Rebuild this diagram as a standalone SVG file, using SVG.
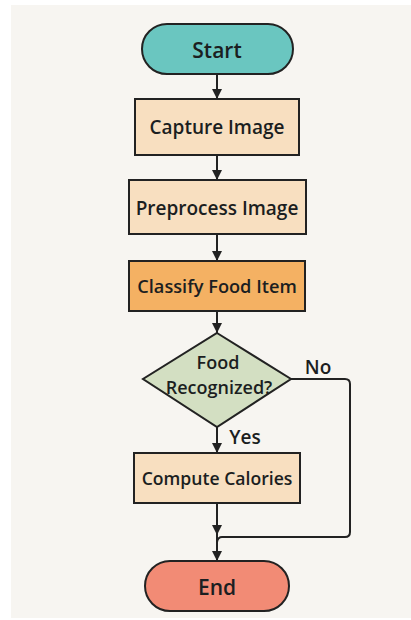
<svg xmlns="http://www.w3.org/2000/svg" width="411" height="620" viewBox="0 0 411 620">
<style>
text{font-family:"Open Sans","Liberation Sans",sans-serif;font-weight:600;fill:#1b1e21;text-anchor:middle;dominant-baseline:central}
.lbl{font-size:19px}
.sm{font-size:18px}
.big{font-size:21px}
.sh{stroke:#222;stroke-width:2}
.ln{fill:none;stroke:#222;stroke-width:2}
</style>
<defs>
<marker id="a" viewBox="0 0 10 10" refX="10" refY="5" markerWidth="10" markerHeight="10" orient="auto" markerUnits="userSpaceOnUse">
<path d="M0,0 L10,5 L0,10 z" fill="#222"/>
</marker>
</defs>
<rect x="0" y="0" width="411" height="620" fill="#ffffff"/>
<rect x="11" y="5" width="400" height="613" fill="#f7f5f1"/>
<g id="connectors">
<line class="ln" x1="217" y1="74" x2="217" y2="99" marker-end="url(#a)"/>
<line class="ln" x1="217" y1="155" x2="217" y2="180" marker-end="url(#a)"/>
<line class="ln" x1="217" y1="234" x2="217" y2="261" marker-end="url(#a)"/>
<line class="ln" x1="217" y1="311" x2="217" y2="333" marker-end="url(#a)"/>
<line class="ln" x1="217" y1="427" x2="217" y2="453" marker-end="url(#a)"/>
<line class="ln" x1="217" y1="503" x2="217" y2="535" marker-end="url(#a)"/>
<line class="ln" x1="217" y1="535" x2="217" y2="561" marker-end="url(#a)"/>
<path class="ln" d="M291,379 H345 Q350,379 350,384 V532 Q350,537 345,537 H222 Q218,537 217,542"/>
<text class="lbl" x="318" y="367">No</text>
<text class="lbl" x="245" y="437">Yes</text>
</g>
<g id="start">
<rect class="sh" x="142" y="24" width="151" height="50" rx="25" fill="#6ac6c0"/>
<text class="big" x="217" y="50">Start</text>
</g>
<g id="capture">
<rect class="sh" x="135" y="99" width="164" height="56" fill="#f8dfc0"/>
<text class="lbl" x="217" y="127">Capture Image</text>
</g>
<g id="preprocess">
<rect class="sh" x="129" y="180" width="177" height="54" fill="#f8dfc0"/>
<text class="lbl" x="217" y="208">Preprocess Image</text>
</g>
<g id="classify">
<rect class="sh" x="129" y="261" width="176" height="50" fill="#f4b163"/>
<text class="lbl" x="217" y="286" style="font-size:18.2px">Classify Food Item</text>
</g>
<g id="decision">
<polygon class="sh" points="217,333 291,379 217,427 143,379" fill="#d3dfc2"/>
<text class="sm" x="218" y="362">Food</text>
<text class="sm" x="219" y="387">Recognized?</text>
</g>
<g id="compute">
<rect class="sh" x="134" y="453" width="166" height="50" fill="#f8dfc0"/>
<text class="lbl" x="217" y="478" style="font-size:17.6px">Compute Calories</text>
</g>
<g id="end">
<rect class="sh" x="145" y="561" width="144" height="50" rx="25" fill="#f28b75"/>
<text class="big" x="217" y="587">End</text>
</g>
</svg>
